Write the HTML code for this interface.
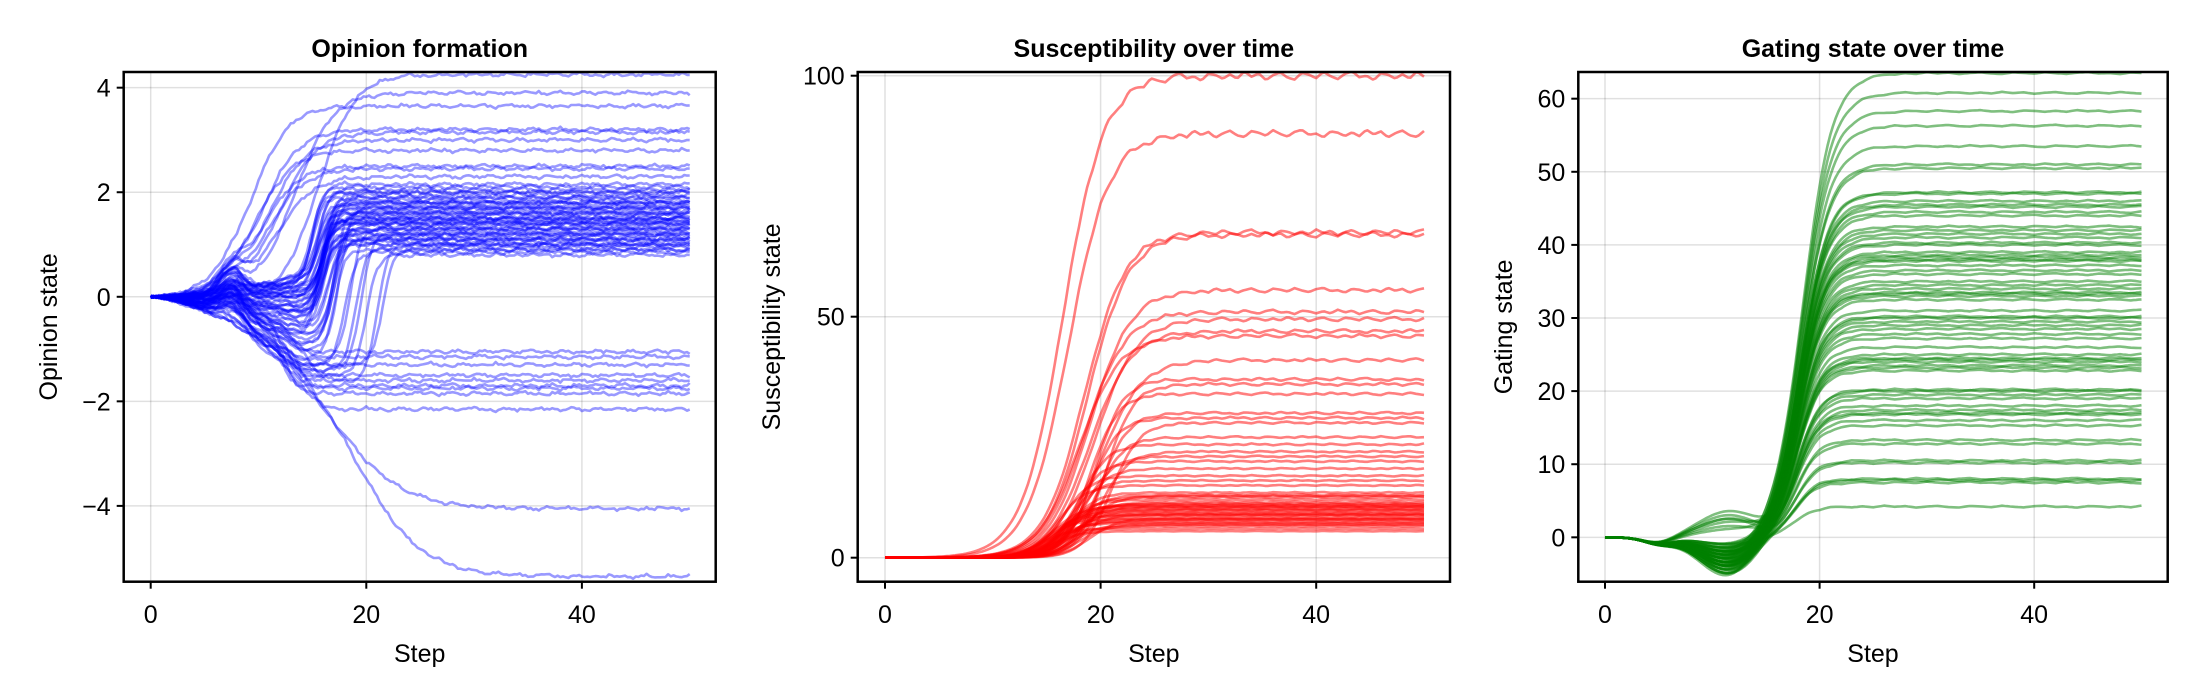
<!DOCTYPE html>
<html><head><meta charset="utf-8">
<style>
html,body{margin:0;padding:0;background:#fff;}
svg{display:block;font-family:"Liberation Sans",Arial,sans-serif;}
</style></head>
<body>
<svg id="chart" width="2200" height="700" viewBox="0 0 2200 700" xmlns="http://www.w3.org/2000/svg"></svg>
<script>
// ---------- Panel 1: Opinion formation ----------
const opFinal = [1.0,1.2,1.4,1.6,1.8,2.0,0.9,1.1,1.3,1.5,1.7,1.9,2.1,0.85,1.05,1.25,1.45,1.65,1.85,2.05,0.95,1.15,1.35,1.55,1.75,1.95,2.15,0.8,1.0,1.2,1.4,1.6,1.8,2.0,1.1,1.3,1.5,1.7,1.9,1.2,1.4,1.6,1.0,1.3,1.5,1.8,1.1,1.45,1.7,0.9,
  2.3,2.45,2.5,2.8,3.0,3.15,3.2,3.65,3.9,4.25,
  -1.05,-1.15,-1.3,-1.5,-1.6,-1.7,-1.75,-1.85,-2.15,-4.05,-5.35];
const opMid = [16,16,15.5,16,16.5,15,17,16,15.5,16,17.5,16,15,18,16.5,16,15.5,17,16,15.5,19,16,17,16,15.5,16,15,20,21,16,16,15.5,16,15.5,17,18.5,16,16,15,19.5,16,15.5,16.5,17,16,15.5,16,17,16,21.5,
  12,11,10.5,10,11,12,10.5,9.5,13.5,15.5,
  13,14,12,13,15,12,14,13,15,17.5,19];
const opPre = [-0.4,0.2,-0.8,0.1,-0.3,0.3,-1.2,-0.6,0.0,-0.2,-1.0,0.2,0.4,-1.3,-0.5,-0.1,0.3,-0.9,-0.3,0.1,-1.4,-0.4,-0.7,0.0,0.3,-0.2,0.2,-1.5,-1.6,-0.3,0.1,0.3,-0.5,0.4,-0.8,-1.2,-0.2,0.0,0.3,-1.4,-0.1,0.2,-0.6,-0.9,0.1,0.4,-0.3,-0.7,0.0,-1.3,
  0.4,0.3,0.4,0.5,0.3,0.2,0.4,0.5,0.2,-0.1,
  -0.6,-0.8,-0.5,-0.9,-1.0,-0.7,-1.1,-1.2,-1.4,-1.0,-0.9];
const opXTicks = [0,20,40];
const opYTicks = [4,2,0,-2,-4];
const opYLabels = ["4","2","0","−2","−4"];

// ---------- Panel 2: Susceptibility ----------
const suFinal = [100,88,67.5,67,55.5,51,49.5,47,46,41,37,36,34,30,29,28,25,23.5,22,21,20,18.5,17,16,15,
  13,12.5,12,11.5,11,10.8,10.5,10,9.5,9.2,9,8.7,8.3,8,7.5,7,6.5,6,5.5,12.8,11.2,10.2,9.8,8.9,7.8,7.2,6.8,13.5,10.6,8.1];
const suMid = [17.5,18,19.5,19.8,20,19.5,20.5,20,19,21,20.5,21.5,20,21,20,22,20.5,19,21,19.5,18.5,19,17.5,18,17,
  18.5,18,17.5,19,17.5,17,18.5,17.5,16.5,18,19,16.5,17.5,16,17,18.5,17.5,15.5,16.5,19.5,18,17,18.5,16,17.5,16.5,19,18,16.5,20];
const suXTicks = [0,20,40];
const suYTicks = [100,50,0];

// ---------- Panel 3: Gating state ----------
const gaFinal = [4.2,7.5,7.8,8.0,10.2,10.5,12.8,13.3,15.3,16,16.8,17,17.4,18,19,19.5,20,20.2,
  22.8,23.2,23.5,24,24.3,24.5,25,26,27.2,27.8,28.5,29,29.5,30,30.2,31,
  32.5,33,33.3,33.5,34,34.5,35,36,36.5,37.2,37.8,38,38.3,38.6,39,40,40.3,41,41.5,42,42.5,
  44,44.5,45.2,45.5,46,47,47.2,50.5,51,53.5,56.3,58.3,60.8,63.5];
const gaDip = [-1,-3,-2,-4,2.5,-3.5,-1.5,-4.5,-2,3,-5,-2.5,-3.5,1.5,-4,-2,-3,-4.5,
  -2,-3.5,-1,-4,2.5,-3,-5,-2,-3.5,-1.5,-4,-2.5,3.5,-4.5,-2,-3.5,
  -1.5,-4,-2.5,-3,-5,2,-3.5,-1,-4,-2.5,-3,-4.5,1,-3.5,-1.5,-4,-2.5,-3,-5,-2,-3.5,
  -1,-4,-2.5,-3,-4.5,-2,-3.5,-1.5,-4,-2.5,-3,-5.5,-2,-3];
const gaXTicks = [0,20,40];
const gaYTicks = [60,50,40,30,20,10,0];

// shared small wobble sequence (noise shape)
const wobble = [0.3,-0.6,0.9,-0.2,0.5,-0.9,0.1,0.7,-0.4,-0.8,0.6,0.2,-0.5,0.8,-0.1,-0.7,0.4,0.9,-0.3,0.0,-0.9,0.5,0.2,-0.6];

const NS="http://www.w3.org/2000/svg";
const svg=document.getElementById('chart');
function mk(tag,attrs,parent){const e=document.createElementNS(NS,tag);for(const k in attrs)e.setAttribute(k,attrs[k]);(parent||svg).appendChild(e);return e;}
function logi(z){return 1/(1+Math.exp(-z));}
function wob(i,t,f){const k=Math.floor(t*f)+i*7;const a=wobble[((k%24)+24)%24],b=wobble[(((k+1)%24)+24)%24];const fr=t*f-Math.floor(t*f);return a*(1-fr)+b*fr;}

function panel(cfg){
  const g=mk('g',{});
  
  
  const L=cfg.L,R=cfg.R,T=72,B=581.7;
  const sx=v=>cfg.x0+v*cfg.kx;
  const sy=v=>B-(v-cfg.ymin)/(cfg.ymax-cfg.ymin)*(B-T);
  cfg.xt.forEach(v=>{const l=mk('line',{x1:sx(v),x2:sx(v),y1:T,y2:B,stroke:'#000','stroke-opacity':0.12,'stroke-width':1.5},g);
    });
  cfg.yt.forEach(v=>{const l=mk('line',{x1:L,x2:R,y1:sy(v),y2:sy(v),stroke:'#000','stroke-opacity':0.12,'stroke-width':1.5},g);
    });
  const lines=mk('g',{'clip-path':'url(#'+cfg.clip+')'},g);
  
  
  const cp=mk('clipPath',{id:cfg.clip},svg);mk('rect',{x:L,y:T,width:R-L,height:B-T},cp);
  for(let i=0;i<cfg.n;i++){
    let d='';
    for(let t=0;t<=50.001;t+=0.25){
      const y=cfg.f(i,t);
      d+=(t===0?'M':'L')+sx(t).toFixed(1)+' '+sy(y).toFixed(1);
    }
    const p=mk('path',{d:d,fill:'none',stroke:cfg.color,'stroke-opacity':cfg.alpha,'stroke-width':2.6,'stroke-linejoin':'round'},lines);
    
    
  }
  const fr=mk('rect',{x:L,y:T,width:R-L,height:B-T,fill:'none',stroke:'#000','stroke-width':2.5},g);
  
  cfg.xt.forEach(v=>{mk('line',{x1:sx(v),x2:sx(v),y1:B,y2:B+7,stroke:'#000','stroke-width':2},g);
    const t=mk('text',{x:sx(v),y:623,'text-anchor':'middle','font-size':25,fill:'#000'},g);t.textContent=v;
    });
  cfg.yt.forEach((v,j)=>{mk('line',{x1:L-7,x2:L,y1:sy(v),y2:sy(v),stroke:'#000','stroke-width':2},g);
    const t=mk('text',{x:L-13,y:sy(v)+9,'text-anchor':'end','font-size':25,fill:'#000'},g);t.textContent=cfg.yl?cfg.yl[j]:v;
    });
  const xt=mk('text',{x:(L+R)/2,y:662,'text-anchor':'middle','font-size':25,fill:'#000'},g);xt.textContent='Step';
  
  const yt=mk('text',{x:0,y:0,transform:'translate('+cfg.ylx+','+((T+B)/2)+') rotate(-90)','text-anchor':'middle','font-size':25,fill:'#000'},g);yt.textContent=cfg.ylab;
  
  const tt=mk('text',{x:(L+R)/2,y:57,'text-anchor':'middle','font-size':25,'font-weight':'bold',fill:'#000'},g);tt.textContent=cfg.title;
  
}

panel({name:'opinion-panel',clip:'c1',L:123.7,R:715.7,x0:150.7,kx:10.78,ymin:-5.45,ymax:4.30,
  xt:opXTicks,yt:opYTicks,yl:opYLabels,color:'#0000ff',alpha:0.4,n:opFinal.length,
  ylab:'Opinion state',ylx:57,title:'Opinion formation',
  f:(i,t)=>{const fin=opFinal[i],m=opMid[i];const w=fin<-3?3:(Math.abs(fin)>2.2?1.7:0.5);
    const r=Math.min(t/14,1);const pre=opPre[i]*Math.pow(r,1.6)+0.25*Math.exp(-Math.pow((t-7.5)/1.5,2))*(1+wobble[i%24]);
    const s=logi((t-m)/w);const s0=logi(-m/w);const ss=Math.max(0,(s-s0)/(1-s0));
    return pre*(1-ss)+fin*ss+0.04*Math.min(t/3,1)*wob(i,t,1.5)+0.025*wob(i+3,t,7);}});

panel({name:'susceptibility-panel',clip:'c2',L:857.7,R:1450,x0:885,kx:10.78,ymin:-4.98,ymax:100.77,
  xt:suXTicks,yt:suYTicks,color:'#ff0000',alpha:0.5,n:suFinal.length,
  ylab:'Susceptibility state',ylx:780,title:'Susceptibility over time',
  f:(i,t)=>{const fin=suFinal[i],m=suMid[i];const w=fin>40?1.9:1.3;
    const s=logi((t-m+1)/w);const s0=logi((-m+1)/w);const ss=Math.max(0,(s-s0)/(1-s0));
    return fin*ss+0.01*fin*ss*wob(i,t,1.5);}});

panel({name:'gating-panel',clip:'c3',L:1578.3,R:2167.7,x0:1605,kx:10.73,ymin:-6.07,ymax:63.65,
  xt:gaXTicks,yt:gaYTicks,color:'#008000',alpha:0.5,n:gaFinal.length,
  ylab:'Gating state',ylx:1512,title:'Gating state over time',
  f:(i,t)=>{const fin=gaFinal[i];const m=17.6+fin/60*0.8;const w=0.95+fin/60*0.4;
    const dip=gaDip[i]*Math.exp(-Math.pow((t-11.5)/3.8,2))*(1-logi((t-15.5)/0.7))-0.8*Math.exp(-Math.pow((t-5)/2,2));
    const s=logi((t-m)/w);const s0=logi(-m/w);const ss=Math.max(0,(s-s0)/(1-s0));
    return dip+fin*ss+0.15*ss*wob(i,t,1);}});
</script>
</body></html>
